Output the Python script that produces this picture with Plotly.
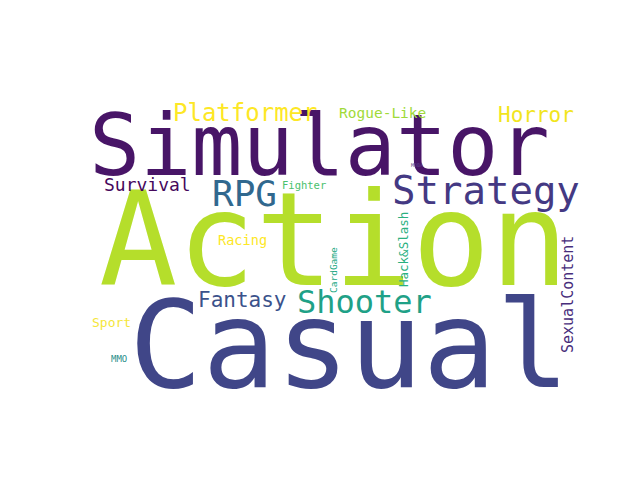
import plotly.graph_objects as go

words = ["Action", "Casual", "Simulator", "Strategy", "RPG", "Shooter", "Platformer",
         "Horror", "Fantasy", "Survival", "SexualContent", "Rogue-Like", "Racing",
         "Sport", "Hack&Slash", "Fighter", "CardGame", "MMO", "MOBA"]
sizes = [130, 122, 85, 39, 36, 32, 24, 21, 21, 18, 15, 14.5, 13.6, 13, 12.5, 10.5, 9.5, 9, 5]
xs = [330, 345, 315, 482, 240, 360, 241, 532, 238, 143, 568, 378, 238, 107, 403, 300, 333, 115, 413]
ys = [240, 345, 145, 190, 193, 302, 113, 115, 300, 184, 287, 113, 240, 322, 242, 185, 262, 359, 165]
angles = [0, 0, 0, 0, 0, 0, 0, 0, 0, 0, -90, 0, 0, 0, -90, 0, -90, 0, 0]
colors = ["#b5de2b", "#404688", "#481567", "#443983", "#31688e", "#1fa187", "#fde725",
          "#f1e51d", "#3b528b", "#46085c", "#472d7b", "#a0da39", "#fde725",
          "#f5e63a", "#2ab07f", "#4ac16d", "#22a884", "#2c8f8a", "#5b3f87"]

fig = go.Figure()
fig.add_trace(go.Scatter(x=[0, 640], y=[0, 480], mode="markers", marker=dict(opacity=0), hoverinfo="skip"))
for w, s, x, y, a, c in zip(words, sizes, xs, ys, angles, colors):
    dx, dy = (-8, 0) if a else (-4, -8)
    fig.add_annotation(x=x, y=y, xref="x", yref="y", text=w, showarrow=False, textangle=a,
                       xshift=dx, yshift=-dy,
                       font=dict(family="DejaVu Sans Mono", size=s, color=c),
                       xanchor="center", yanchor="middle")
fig.update_xaxes(range=[0, 640], visible=False)
fig.update_yaxes(range=[480, 0], visible=False)
fig.update_layout(width=640, height=480, margin=dict(l=0, r=0, t=0, b=0),
                  plot_bgcolor="white", paper_bgcolor="white", showlegend=False)
fig.write_html("out.html")
